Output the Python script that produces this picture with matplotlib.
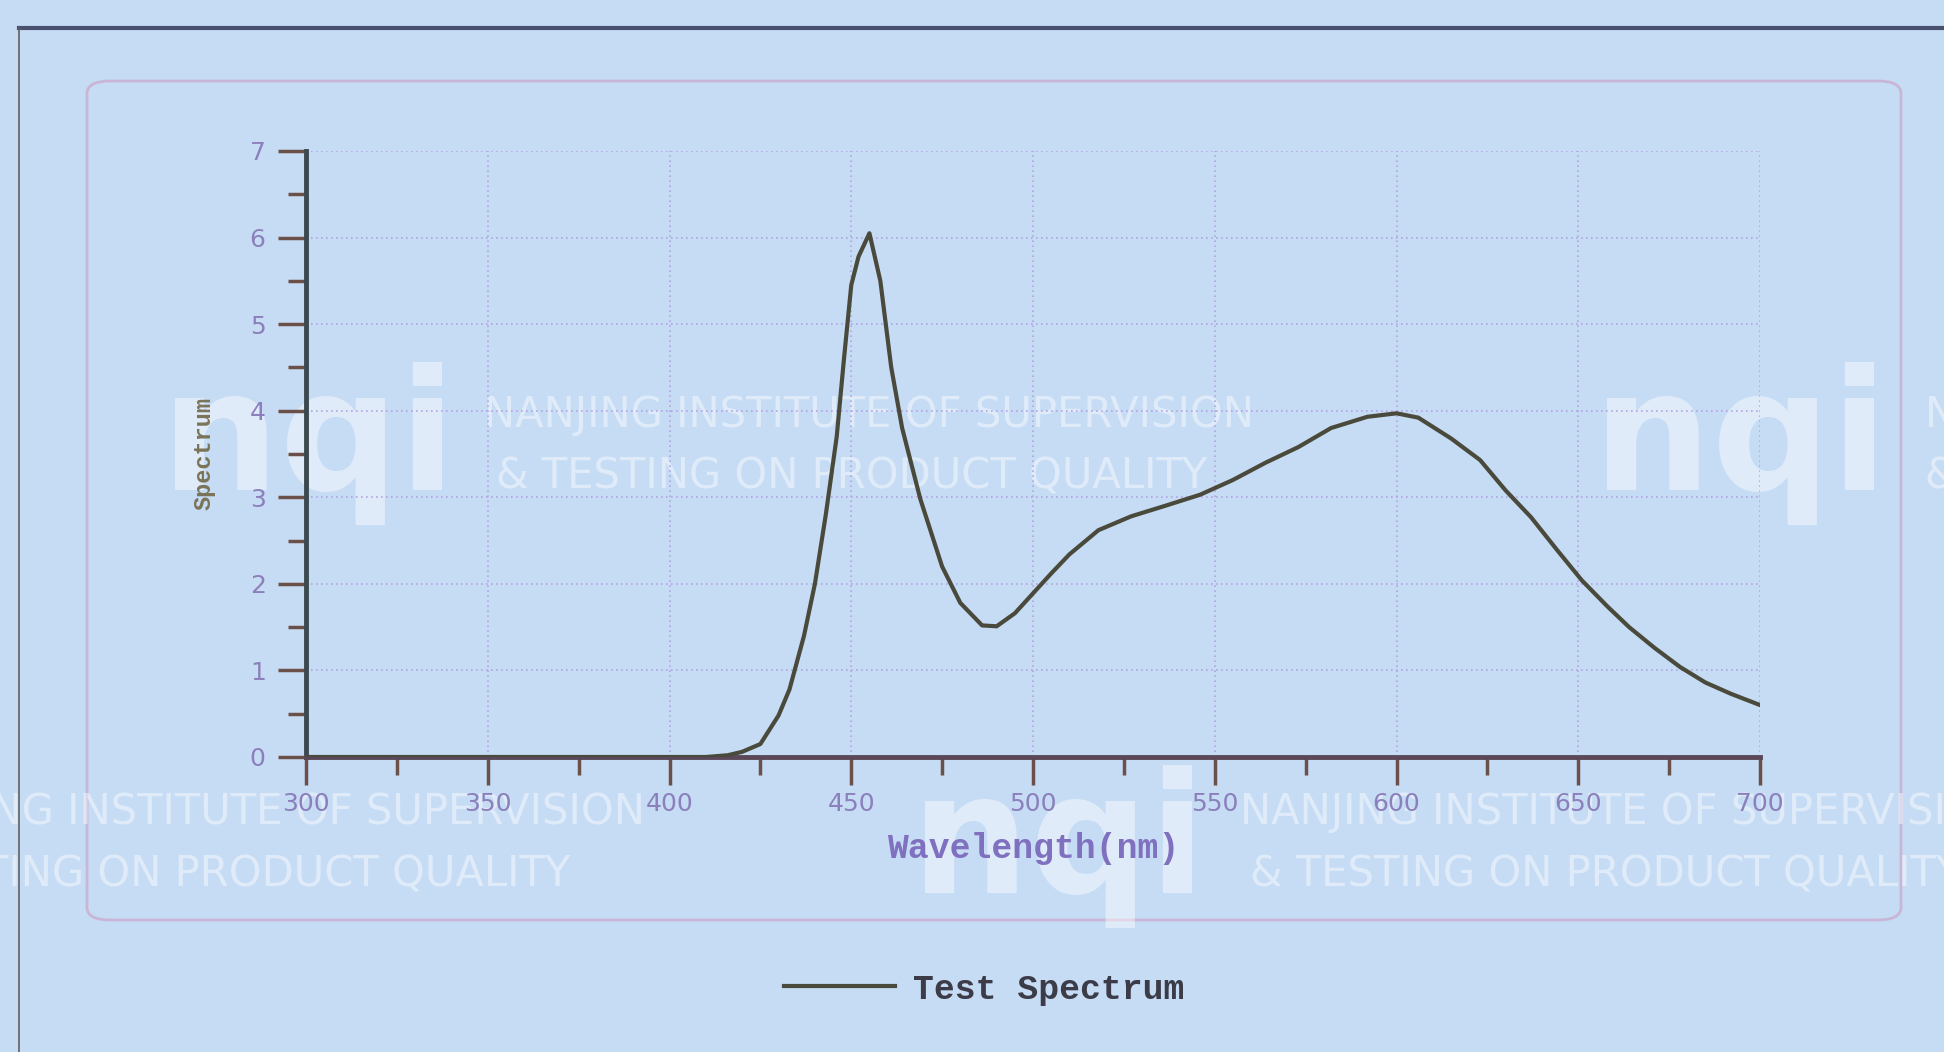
import matplotlib
matplotlib.use("Agg")
import matplotlib.pyplot as plt
from matplotlib.patches import FancyBboxPatch
from matplotlib.lines import Line2D

# spectrum
wavelength = [300, 350, 400, 410, 416, 420, 425, 430, 433, 437, 440, 443, 446, 448, 450,
              452, 455, 458, 461, 464, 469, 475, 480, 486, 490, 495, 500, 505, 510, 518,
              527, 537, 546, 555, 564, 573, 582, 592, 600, 606, 615, 623, 630, 637, 644,
              651, 658, 664, 671, 678, 685, 692, 700]
spectrum = [0.0, 0.0, 0.0, 0.0, 0.02, 0.06, 0.15, 0.48, 0.78, 1.4, 2.0, 2.8, 3.7, 4.6, 5.45,
            5.78, 6.05, 5.5, 4.5, 3.8, 2.98, 2.2, 1.78, 1.52, 1.51, 1.66, 1.89, 2.12, 2.34, 2.62,
            2.78, 2.91, 3.03, 3.2, 3.4, 3.58, 3.8, 3.93, 3.97, 3.92, 3.68, 3.43, 3.08, 2.77, 2.40,
            2.04, 1.74, 1.50, 1.26, 1.04, 0.86, 0.73, 0.60]
x_ticks = [300, 350, 400, 450, 500, 550, 600, 650, 700]
y_ticks = [0, 1, 2, 3, 4, 5, 6, 7]

bg = '#c6dcf4'
W, H = 1944, 1052
fig = plt.figure(figsize=(W / 100, H / 100), dpi=100, facecolor=bg)

# outer frame of the scanned page
fig.add_artist(Line2D([19 / W, 1], [1 - 28 / H, 1 - 28 / H], color='#4a5070', lw=3))
fig.add_artist(Line2D([19 / W, 19 / W], [0, 1 - 28 / H], color='#606060', lw=1.2))

# rounded panel
panel = FancyBboxPatch((87 / W, 1 - 920 / H), (1901 - 87) / W, (920 - 81) / H,
                       boxstyle='round,pad=0,rounding_size=0.012',
                       transform=fig.transFigure, facecolor=bg, edgecolor='#c9b6d6', lw=2,
                       zorder=-3)
fig.add_artist(panel)

# watermark
wm = dict(color='white', alpha=0.45, zorder=-2)
wm_txt = dict(family=['Liberation Sans Narrow', 'DejaVu Sans'], fontsize=30, **wm)
for nx, ny in [(161, 490), (1593, 490), (911, 893)]:
    fig.text(nx / W, 1 - ny / H, 'nqi', fontsize=120, fontweight='bold', va='baseline', **wm)
for tx, ty, ha in [(484, 415, 'left'), (1240, 812, 'left'), (1925, 415, 'left'), (645, 812, 'right')]:
    fig.text(tx / W, 1 - ty / H, 'NANJING INSTITUTE OF SUPERVISION', ha=ha, va='center', **wm_txt)
for tx, ty, ha in [(496, 477, 'left'), (1250, 874, 'left'), (1925, 477, 'left'), (570, 874, 'right')]:
    fig.text(tx / W, 1 - ty / H, '& TESTING ON PRODUCT QUALITY', ha=ha, va='center', **wm_txt)

ax = fig.add_axes([306 / W, 1 - 757 / H, (1760 - 306) / W, (757 - 151) / H])
ax.set_facecolor('none')
ax.plot(wavelength, spectrum, color='#4a4a3c', lw=3, label='Test Spectrum', zorder=3,
        solid_joinstyle='round')

ax.set_xlim(300, 700)
ax.set_ylim(0, 7)
ax.set_xticks(x_ticks)
ax.set_yticks(y_ticks)
ax.set_xticks(range(325, 700, 50), minor=True)
ax.set_yticks([v + 0.5 for v in y_ticks[:-1]], minor=True)
ax.grid(True, which='major', color='#b4a4e4', lw=1.2, ls=(0, (1, 2)))

for s in ['top', 'right']:
    ax.spines[s].set_visible(False)
ax.spines['left'].set_color('#3c4a50')
ax.spines['left'].set_linewidth(3.5)
ax.spines['bottom'].set_color('#5a4858')
ax.spines['bottom'].set_linewidth(3.5)
ax.tick_params(which='major', direction='out', length=20, width=2.5, color='#6a5048',
               labelsize=18, labelcolor='#8c80bc')
ax.tick_params(axis='x', which='major', pad=5)
ax.tick_params(axis='y', which='major', pad=9)
ax.tick_params(which='minor', direction='out', length=13, width=2.5, color='#6a5048')

ax.set_xlabel('Wavelength(nm)', family='Liberation Mono', fontweight='bold', fontsize=25,
              color='#8070c0', labelpad=12)
ax.set_ylabel('Spectrum', family='Liberation Mono', fontweight='bold', fontsize=17,
              color='#7a7458')
ax.yaxis.set_label_coords(-0.062, 0.5)

ax.legend(loc='center', bbox_to_anchor=(984 / W, 1 - 989 / H), bbox_transform=fig.transFigure,
          frameon=False, handlelength=3.2, handletextpad=0.5,
          prop={'family': 'Liberation Mono', 'weight': 'bold', 'size': 25})
for t in ax.get_legend().get_texts():
    t.set_color('#3c3c48')

fig.savefig('out.png', dpi=100, facecolor=bg)
